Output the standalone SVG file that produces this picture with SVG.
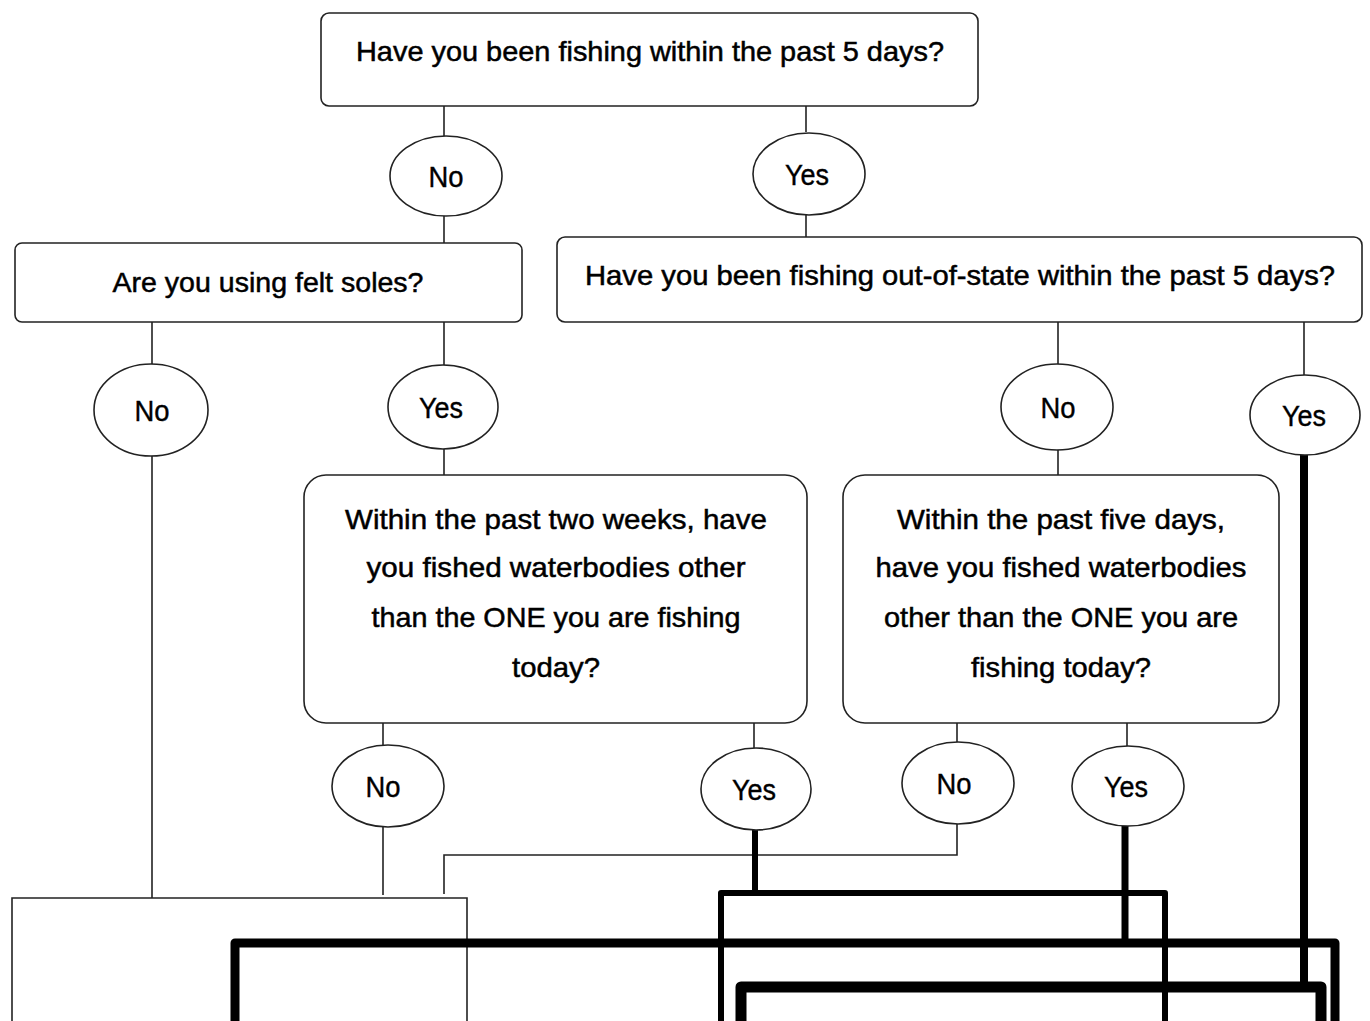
<svg xmlns="http://www.w3.org/2000/svg" width="1370" height="1021" viewBox="0 0 1370 1021">
<style>
.box{fill:#fff;stroke:#222;stroke-width:1.6}
.oval{fill:#fff;stroke:#222;stroke-width:1.6}
.t{font-family:"Liberation Sans",Arial,sans-serif;font-size:28px;fill:#000;stroke:#000;stroke-width:0.5;text-anchor:middle}
.c{font-family:"Liberation Sans",Arial,sans-serif;font-size:29px;fill:#000;stroke:#000;stroke-width:0.4;text-anchor:middle}
.thin{fill:none;stroke:#222;stroke-width:1.6}
.thick{fill:none;stroke:#000;stroke-linejoin:round}
</style>
<rect width="1370" height="1021" fill="#fff"/>
<g id="connectors">
<path class="thin" d="M444 106V136M444 216V243M806 106V132M806 214V237"/>
<path class="thin" d="M152 322V364M152 456V898M444 322V365M444 449V475M1058 322V364M1058 450V475M1304 322V375"/>
<path class="thin" d="M383 723V745M383 827V895M754 723V748M957 723V742M1127 723V746"/>
<path class="thin" d="M957 824V855H444V894"/>
<path class="thin" d="M12 1021V898H467V1021"/>
<path class="thick" stroke-width="8" d="M1304 455V987"/>
<path class="thick" stroke-width="6" d="M755 830V893"/>
<path class="thick" stroke-width="7" d="M1125 826V943"/>
<path class="thick" stroke-width="6" d="M721 1021V893H1165V1021"/>
<path class="thick" stroke-width="9" d="M235 1021V943H1335V1021"/>
<path class="thick" stroke-width="11" d="M741 1021V987H1321V1021"/>
</g>
<g id="q1">
<rect class="box" x="321" y="13" width="657" height="93" rx="8"/>
<text class="t" x="650" y="61" textLength="588" lengthAdjust="spacingAndGlyphs">Have you been fishing within the past 5 days?</text>
</g>
<g id="no1"><ellipse class="oval" cx="446" cy="176" rx="56" ry="40"/><text class="c" x="446" y="187" textLength="35" lengthAdjust="spacingAndGlyphs">No</text></g>
<g id="yes1"><ellipse class="oval" cx="809" cy="174" rx="56" ry="41"/><text class="c" x="807" y="185" textLength="44" lengthAdjust="spacingAndGlyphs">Yes</text></g>
<g id="q2">
<rect class="box" x="15" y="243" width="507" height="79" rx="7"/>
<text class="t" x="268" y="292" textLength="311" lengthAdjust="spacingAndGlyphs">Are you using felt soles?</text>
</g>
<g id="q3">
<rect class="box" x="557" y="237" width="805" height="85" rx="8"/>
<text class="t" x="960" y="285" textLength="750" lengthAdjust="spacingAndGlyphs">Have you been fishing out-of-state within the past 5 days?</text>
</g>
<g id="no2"><ellipse class="oval" cx="151" cy="410" rx="57" ry="46"/><text class="c" x="152" y="421" textLength="35" lengthAdjust="spacingAndGlyphs">No</text></g>
<g id="yes2"><ellipse class="oval" cx="443" cy="407" rx="55" ry="42"/><text class="c" x="441" y="418" textLength="44" lengthAdjust="spacingAndGlyphs">Yes</text></g>
<g id="no3"><ellipse class="oval" cx="1057" cy="407" rx="56" ry="43"/><text class="c" x="1058" y="418" textLength="35" lengthAdjust="spacingAndGlyphs">No</text></g>
<g id="yes3"><ellipse class="oval" cx="1305" cy="415" rx="55" ry="40"/><text class="c" x="1304" y="426" textLength="44" lengthAdjust="spacingAndGlyphs">Yes</text></g>
<g id="q4">
<rect class="box" x="304" y="475" width="503" height="248" rx="22"/>
<text class="t" x="556" y="529" textLength="422" lengthAdjust="spacingAndGlyphs">Within the past two weeks, have</text>
<text class="t" x="556" y="577" textLength="379" lengthAdjust="spacingAndGlyphs">you fished waterbodies other</text>
<text class="t" x="556" y="627" textLength="369" lengthAdjust="spacingAndGlyphs">than the ONE you are fishing</text>
<text class="t" x="556" y="677" textLength="88" lengthAdjust="spacingAndGlyphs">today?</text>
</g>
<g id="q5">
<rect class="box" x="843" y="475" width="436" height="248" rx="22"/>
<text class="t" x="1061" y="529" textLength="328" lengthAdjust="spacingAndGlyphs">Within the past five days,</text>
<text class="t" x="1061" y="577" textLength="371" lengthAdjust="spacingAndGlyphs">have you fished waterbodies</text>
<text class="t" x="1061" y="627" textLength="354" lengthAdjust="spacingAndGlyphs">other than the ONE you are</text>
<text class="t" x="1061" y="677" textLength="180" lengthAdjust="spacingAndGlyphs">fishing today?</text>
</g>
<g id="no4"><ellipse class="oval" cx="388" cy="786" rx="56" ry="41"/><text class="c" x="383" y="797" textLength="35" lengthAdjust="spacingAndGlyphs">No</text></g>
<g id="yes4"><ellipse class="oval" cx="756" cy="789" rx="55" ry="41"/><text class="c" x="754" y="800" textLength="44" lengthAdjust="spacingAndGlyphs">Yes</text></g>
<g id="no5"><ellipse class="oval" cx="958" cy="783" rx="56" ry="41"/><text class="c" x="954" y="794" textLength="35" lengthAdjust="spacingAndGlyphs">No</text></g>
<g id="yes5"><ellipse class="oval" cx="1128" cy="786" rx="56" ry="40"/><text class="c" x="1126" y="797" textLength="44" lengthAdjust="spacingAndGlyphs">Yes</text></g>
</svg>
